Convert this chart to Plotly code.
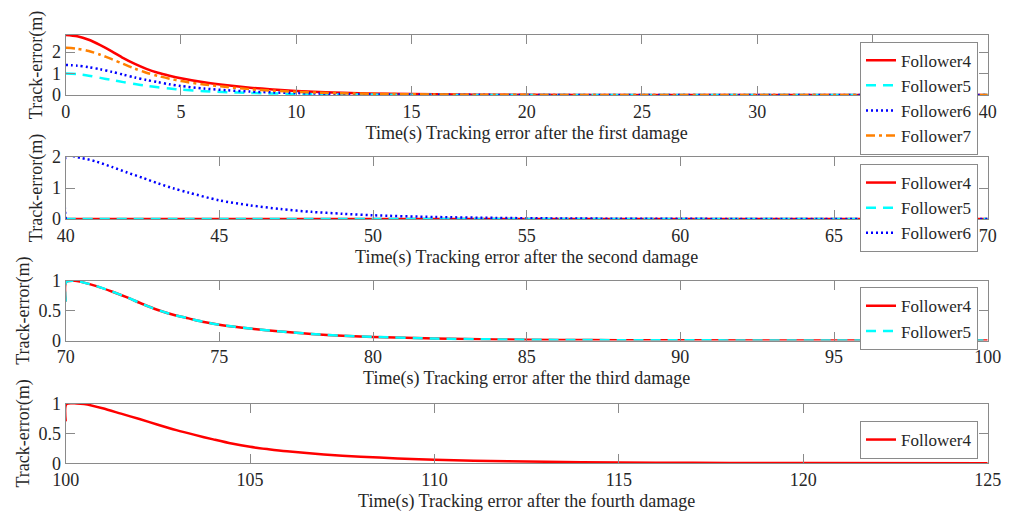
import plotly.graph_objects as go

# ---------------- data ----------------
t1 = [0, 0.5, 1, 1.5, 2, 2.5, 3, 3.5, 4, 4.5, 5, 6, 7, 8, 9, 10, 11, 12, 14, 16, 18, 20, 25, 30, 35, 40]
s1_f4 = [2.8, 2.74, 2.58, 2.33, 2.04, 1.72, 1.45, 1.22, 1.04, 0.9, 0.78, 0.59, 0.45, 0.34, 0.26, 0.19, 0.14, 0.10, 0.055, 0.03, 0.015, 0.008, 0.002, 0, 0, 0]
s1_f5 = [1.0, 0.97, 0.9, 0.8, 0.7, 0.6, 0.51, 0.43, 0.36, 0.3, 0.25, 0.18, 0.13, 0.095, 0.07, 0.05, 0.037, 0.027, 0.014, 0.007, 0.004, 0.002, 0, 0, 0, 0]
s1_f6 = [1.4, 1.37, 1.3, 1.2, 1.08, 0.95, 0.82, 0.7, 0.6, 0.5, 0.42, 0.3, 0.22, 0.16, 0.12, 0.09, 0.065, 0.045, 0.025, 0.013, 0.007, 0.003, 0.001, 0, 0, 0]
s1_f7 = [2.2, 2.16, 2.05, 1.88, 1.67, 1.45, 1.23, 1.04, 0.89, 0.76, 0.65, 0.49, 0.37, 0.27, 0.2, 0.15, 0.11, 0.08, 0.045, 0.025, 0.012, 0.006, 0.001, 0, 0, 0]

t2 = [40, 40.02, 40.5, 41, 41.5, 42, 42.5, 43, 43.5, 44, 45, 46, 47, 48, 49, 50, 52, 54, 56, 58, 60, 65, 70]
s2_f4 = [0] * 23
s2_f5 = [0] * 23
s2_f6 = [0, 2.02, 1.97, 1.85, 1.68, 1.5, 1.33, 1.15, 0.99, 0.85, 0.6, 0.44, 0.32, 0.23, 0.17, 0.12, 0.065, 0.035, 0.018, 0.01, 0.005, 0.001, 0]

t3 = [70, 70.02, 70.3, 70.5, 71, 71.5, 72, 72.5, 73, 73.5, 74, 74.5, 75, 75.5, 76, 77, 78, 79, 80, 82, 84, 86, 88, 90, 95, 100]
s3_f4 = [0.65, 0.98, 1.0, 0.98, 0.91, 0.82, 0.72, 0.61, 0.51, 0.43, 0.37, 0.31, 0.265, 0.23, 0.2, 0.15, 0.11, 0.08, 0.06, 0.033, 0.018, 0.01, 0.005, 0.003, 0.0005, 0]
s3_f5 = [0.65, 0.98, 1.0, 0.98, 0.91, 0.82, 0.72, 0.61, 0.51, 0.43, 0.37, 0.31, 0.265, 0.23, 0.2, 0.15, 0.11, 0.08, 0.06, 0.033, 0.018, 0.01, 0.005, 0.003, 0.0005, 0]

t4 = [100, 100.02, 100.3, 100.5, 101, 101.5, 102, 102.5, 103, 103.5, 104, 104.5, 105, 105.5, 106, 107, 108, 109, 110, 112, 114, 116, 118, 120, 125]
s4_f4 = [0.7, 0.99, 1.0, 0.99, 0.92, 0.83, 0.74, 0.645, 0.555, 0.475, 0.4, 0.33, 0.275, 0.235, 0.2, 0.148, 0.11, 0.082, 0.06, 0.033, 0.018, 0.01, 0.005, 0.003, 0.0005]

xtitles = ["Time(s) Tracking error after the first damage",
           "Time(s) Tracking error after the second damage",
           "Time(s) Tracking error after the third damage",
           "Time(s) Tracking error after the fourth damage"]
ytitle = "Track-error(m)"

# ---------------- styles ----------------
FONT = "Liberation Serif"
TXT = "#262626"
AXC = "#8a8a8a"
styles = {
    "Follower4": dict(color="#FF0000", dash="solid"),
    "Follower5": dict(color="#00FFFF", dash="10px,7px"),
    "Follower6": dict(color="#0000FF", dash="2px,3px"),
    "Follower7": dict(color="#FF8000", dash="9px,4px,3px,4px"),
}
LW = 2.5

fig = go.Figure()

def add(x, y, name, k):
    st = styles[name]
    fig.add_trace(go.Scatter(
        x=x, y=y, name=name, mode="lines",
        line=dict(color=st["color"], dash=st["dash"], width=LW, shape="spline", smoothing=0.8),
        xaxis="x" if k == 1 else f"x{k}", yaxis="y" if k == 1 else f"y{k}",
        legend="legend" if k == 1 else f"legend{k}",
    ))

add(t1, s1_f4, "Follower4", 1)
add(t1, s1_f5, "Follower5", 1)
add(t1, s1_f6, "Follower6", 1)
add(t1, s1_f7, "Follower7", 1)
add(t2, s2_f4, "Follower4", 2)
add(t2, s2_f5, "Follower5", 2)
add(t2, s2_f6, "Follower6", 2)
add(t3, s3_f4, "Follower4", 3)
add(t3, s3_f5, "Follower5", 3)
add(t4, s4_f4, "Follower4", 4)

W, H = 1013, 516
xdom = [65.7 / W, 987.7 / W]
ytops = [35, 157, 280.7, 403.5]
ybots = [95, 219, 340.5, 463.3]
xranges = [[0, 40], [40, 70], [70, 100], [100, 125]]
yranges = [[0, 2.8], [0, 2], [0, 1], [0, 1]]
yticks = [[0, 1, 2], [0, 1, 2], [0, 0.5, 1], [0, 0.5, 1]]
legtops = [41.7, 164, 287.3, 421]

layout = dict(
    width=W, height=H, margin=dict(l=0, r=0, t=0, b=0, autoexpand=False),
    paper_bgcolor="white", plot_bgcolor="white",
    font=dict(family=FONT, size=18, color=TXT),
    showlegend=True,
)
for i in range(4):
    k = i + 1
    xa = "xaxis" if k == 1 else f"xaxis{k}"
    ya = "yaxis" if k == 1 else f"yaxis{k}"
    yname = "y" if k == 1 else f"y{k}"
    xname = "x" if k == 1 else f"x{k}"
    layout[xa] = dict(
        domain=xdom, anchor=yname, range=xranges[i], dtick=5, tick0=0,
        automargin=False,
        showgrid=False, zeroline=False, showline=True, linecolor=AXC, linewidth=1,
        mirror="ticks", ticks="inside", ticklen=9, tickcolor=AXC,
        tickfont=dict(size=18, color=TXT, family=FONT),
        title=dict(text=xtitles[i], font=dict(size=18, color=TXT, family=FONT), standoff=5),
    )
    layout[ya] = dict(
        domain=[1 - ybots[i] / H, 1 - ytops[i] / H], anchor=xname, range=yranges[i],
        automargin=False,
        tickvals=yticks[i], ticktext=[("%g" % v) for v in yticks[i]],
        showgrid=False, zeroline=False, showline=True, linecolor=AXC, linewidth=1,
        mirror="ticks", ticks="inside", ticklen=9, tickcolor=AXC,
        tickfont=dict(size=18, color=TXT, family=FONT),
        title=dict(text=ytitle, font=dict(size=18, color=TXT, family=FONT), standoff=4),
    )
    lg = "legend" if k == 1 else f"legend{k}"
    layout[lg] = dict(
        x=978 / W, y=1 - legtops[i] / H, xanchor="right", yanchor="top",
        bgcolor="white", bordercolor=AXC, borderwidth=1,
        font=dict(size=17, color=TXT, family=FONT), tracegroupgap=0,
        itemwidth=30,
    )

fig.update_layout(**layout)
fig.write_html("out.html", config={"displayModeBar": False},
               post_script="document.body.style.margin='0';document.body.style.overflow='hidden';")
